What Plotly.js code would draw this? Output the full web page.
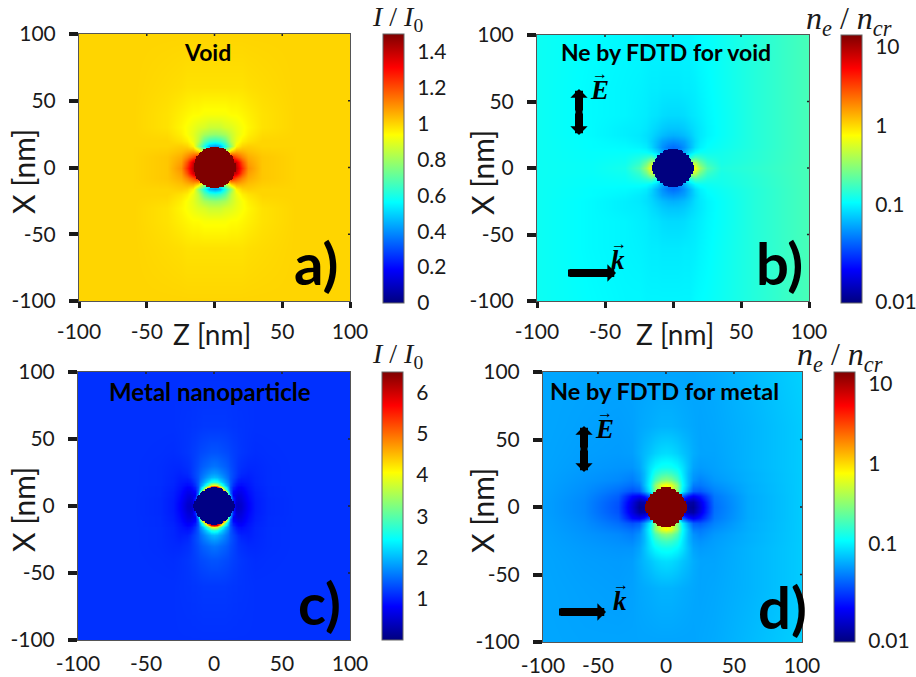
<!DOCTYPE html>
<html><head><meta charset="utf-8">
<script src="https://cdn.plot.ly/plotly-3.0.1.min.js"></script>
<style>html,body{margin:0;padding:0;background:#fff}#c{width:916px;height:677px}</style>
</head><body><div id="c"></div>
<script>
// ---- values ----
const axisTicks=[-100,-50,0,50,100];
const panelTitles=['Void','Ne by FDTD for void','Metal nanoparticle','Ne by FDTD for metal'];
const panelLetters=['a)','b)','c)','d)'];

// a) I/I0, quadrant: columns |Z|, rows |X|
const aCols=[0,4,8,12,16,20,25,35,60,100];
const aRows=[0,4,8,12,16,20,25,30,40,60,100];
const aQuad=[
[1.45,1.45,1.45,1.45,1.42,1.25,1.1,1.02,1,1],
[1.4,1.4,1.42,1.42,1.38,1.2,1.08,1.02,1,1],
[1,1.1,1.2,1.3,1.2,1.12,1.06,1.02,1,1],
[.5,.6,.8,1,1.06,1.05,1.03,1.01,1,1],
[.42,.46,.6,.78,.95,1,1.01,1,1,1],
[.62,.64,.7,.84,.91,.96,.98,1,1,1],
[.78,.79,.81,.86,.9,.93,.96,.99,1,1],
[.86,.86,.88,.89,.91,.93,.95,.98,1,1],
[.93,.93,.93,.94,.94,.95,.96,.98,1,1],
[.98,.98,.98,.98,.98,.98,.985,.99,1,1],
[1,1,1,1,1,1,1,1,1,1]];
const aDisc=[15,15,15,15,14,14,14,13,13,12,11,10,9,8,6,3];

// c) I/I0, quadrant
const cCols=[0,2,4,6,8,10,12,14,16,18,20,25,30,40,60,100];
const cRows=[0,2,4,6,8,10,11,12,13,14,15,16,17,18,20,22,25,30,40,60,100];
const cQuad=[
[6,6,6,5.4,4.2,3,2,1,.5,.45,.5,.8,.98,1.08,1.12,1.12],
[6,6,6,5.4,4.2,3,2,1,.5,.47,.52,.8,.98,1.08,1.12,1.12],
[6,6,6,5.4,4.2,3,2,1,.55,.5,.55,.82,.98,1.08,1.12,1.12],
[6,6,6,5.4,4.2,3,2,1,.6,.55,.6,.84,.99,1.08,1.12,1.12],
[6,6,6,5.4,4.2,3,1.9,.75,.65,.6,.64,.86,1,1.09,1.12,1.12],
[6,6,6,5.4,4.2,3,1.5,.8,.72,.66,.68,.88,1,1.09,1.12,1.12],
[6,6,6,5.4,4.2,2.5,1.45,.85,.76,.7,.71,.89,1.01,1.09,1.12,1.12],
[6,6,6,5.4,3.6,2.2,1.4,.9,.8,.74,.74,.9,1.02,1.09,1.12,1.12],
[6,6,5.8,4.5,3,2.05,1.4,.97,.84,.78,.77,.92,1.02,1.09,1.12,1.12],
[6,5.8,4.9,3.6,2.6,1.9,1.35,1.02,.88,.82,.8,.93,1.03,1.09,1.12,1.12],
[5.2,4.8,3.9,3,2.3,1.8,1.37,1.08,.92,.86,.84,.94,1.03,1.09,1.12,1.12],
[4,3.8,3.2,2.6,2.1,1.72,1.38,1.12,.96,.9,.88,.95,1.04,1.1,1.12,1.12],
[3.2,3.05,2.75,2.3,1.95,1.67,1.38,1.15,1,.94,.9,.96,1.04,1.1,1.12,1.12],
[2.7,2.6,2.4,2.1,1.85,1.62,1.38,1.18,1.04,.97,.94,.97,1.05,1.1,1.12,1.12],
[2.25,2.2,2.05,1.9,1.72,1.54,1.36,1.22,1.1,1.02,.98,.99,1.05,1.1,1.12,1.12],
[2,1.95,1.88,1.76,1.63,1.5,1.36,1.25,1.15,1.08,1.02,1,1.05,1.1,1.12,1.12],
[1.78,1.75,1.7,1.62,1.54,1.44,1.35,1.26,1.18,1.12,1.07,1.03,1.06,1.1,1.12,1.12],
[1.55,1.53,1.5,1.46,1.42,1.36,1.3,1.24,1.18,1.14,1.11,1.07,1.07,1.1,1.12,1.12],
[1.34,1.34,1.33,1.31,1.29,1.27,1.24,1.21,1.19,1.17,1.15,1.12,1.1,1.11,1.12,1.12],
[1.17,1.17,1.17,1.17,1.17,1.16,1.16,1.15,1.15,1.14,1.14,1.13,1.12,1.12,1.12,1.12],
[1.12,1.12,1.12,1.12,1.12,1.12,1.12,1.12,1.12,1.12,1.12,1.12,1.12,1.12,1.12,1.12]];
const cDisc=[15,15,14,14,13,13,12,12,11,10,9,8,6,5,2,-1];

// b), d) log10(ne/ncr), upper half: columns Z, rows |X|
const neCols=[-100,-60,-35,-25,-20,-16,-12,-8,-4,0,4,8,12,16,20,25,35,60,100];
const neRows=[0,4,8,12,16,20,25,30,40,60,100];
const bHalf=[
[-.93,-.95,-.9,-.72,-.45,-.15,-.1,-.1,-.1,-.1,-.1,-.1,-.1,-.15,-.45,-.7,-.87,-.82,-.73],
[-.93,-.95,-.92,-.8,-.6,-.35,-.3,-.4,-.5,-.5,-.5,-.4,-.3,-.35,-.6,-.78,-.89,-.83,-.73],
[-.93,-.96,-.94,-.88,-.82,-.75,-.9,-1.1,-1.2,-1.2,-1.2,-1.1,-.9,-.75,-.8,-.87,-.9,-.84,-.73],
[-.93,-.96,-.96,-.95,-.96,-1,-1.1,-1.25,-1.4,-1.45,-1.4,-1.25,-1.1,-.98,-.94,-.93,-.91,-.84,-.73],
[-.93,-.97,-.98,-1,-1.03,-1.1,-1.22,-1.33,-1.42,-1.45,-1.42,-1.33,-1.22,-1.08,-1.01,-.96,-.93,-.85,-.73],
[-.93,-.97,-1,-1.03,-1.06,-1.12,-1.2,-1.28,-1.32,-1.34,-1.32,-1.28,-1.2,-1.1,-1.03,-.98,-.94,-.85,-.73],
[-.93,-.98,-1.02,-1.04,-1.07,-1.1,-1.15,-1.19,-1.22,-1.23,-1.22,-1.19,-1.15,-1.08,-1.04,-1,-.95,-.85,-.73],
[-.93,-.98,-1.02,-1.03,-1.05,-1.08,-1.11,-1.14,-1.16,-1.16,-1.16,-1.14,-1.11,-1.07,-1.04,-1,-.95,-.85,-.73],
[-.93,-.98,-1,-1.02,-1.03,-1.05,-1.06,-1.08,-1.09,-1.09,-1.09,-1.08,-1.06,-1.04,-1.02,-.99,-.95,-.85,-.73],
[-.93,-.98,-1,-1.01,-1.02,-1.03,-1.03,-1.04,-1.04,-1.04,-1.04,-1.03,-1.03,-1.02,-1,-.98,-.94,-.85,-.73],
[-.93,-.97,-.99,-.99,-1,-1,-1,-1,-1,-1,-1,-1,-1,-.98,-.97,-.96,-.93,-.85,-.73]];
const dHalf=[
[-1.26,-1.36,-1.55,-1.95,-2.17,-2.15,-2,-1.5,-1,-1,-1,-1.5,-2,-2.15,-2.17,-1.93,-1.45,-1.25,-1.14],
[-1.26,-1.36,-1.54,-1.92,-2.12,-2.1,-2,-1.5,-1,-1,-1,-1.5,-2,-2.1,-2.12,-1.9,-1.44,-1.25,-1.14],
[-1.26,-1.35,-1.5,-1.8,-1.85,-1.75,-1.5,-1,-.5,-.1,-.5,-1,-1.5,-1.75,-1.85,-1.75,-1.42,-1.25,-1.14],
[-1.26,-1.34,-1.45,-1.55,-1.5,-1.3,-1,-.5,-.2,-.1,-.2,-.5,-1,-1.3,-1.5,-1.52,-1.38,-1.24,-1.14],
[-1.26,-1.33,-1.4,-1.45,-1.4,-1.2,-.95,-.5,-.2,-.1,-.2,-.5,-.95,-1.2,-1.4,-1.42,-1.34,-1.24,-1.14],
[-1.26,-1.32,-1.36,-1.4,-1.33,-1.2,-.98,-.72,-.55,-.5,-.55,-.72,-.98,-1.2,-1.33,-1.38,-1.31,-1.23,-1.14],
[-1.26,-1.31,-1.34,-1.36,-1.3,-1.2,-1.03,-.87,-.78,-.75,-.78,-.87,-1.03,-1.2,-1.3,-1.33,-1.29,-1.23,-1.14],
[-1.26,-1.3,-1.32,-1.32,-1.27,-1.18,-1.06,-.98,-.93,-.92,-.93,-.98,-1.06,-1.18,-1.27,-1.3,-1.28,-1.22,-1.14],
[-1.26,-1.29,-1.3,-1.29,-1.24,-1.2,-1.16,-1.12,-1.09,-1.08,-1.09,-1.12,-1.16,-1.2,-1.24,-1.27,-1.27,-1.22,-1.14],
[-1.26,-1.28,-1.29,-1.28,-1.26,-1.25,-1.24,-1.23,-1.22,-1.22,-1.22,-1.23,-1.24,-1.25,-1.26,-1.27,-1.26,-1.22,-1.14],
[-1.26,-1.27,-1.27,-1.27,-1.27,-1.27,-1.27,-1.27,-1.27,-1.27,-1.27,-1.27,-1.27,-1.27,-1.27,-1.26,-1.25,-1.2,-1.12]];
const neDisc=[15,15,15,14,14,13,13,12,11,11,9,9,7,6,3];

// colour bars
const aBarTicks=[0,.2,.4,.6,.8,1,1.2,1.4];
const aBarText=['0','0.2','0.4','0.6','0.8','1','1.2','1.4'];
const cBarTicks=[1,2,3,4,5,6];
const neBarTicks=[-2.22,-1,0,1];
const neBarText=['0.01','0.1','1','10'];
const jet=[[0,'#00007f'],[.125,'#0000ff'],[.375,'#00ffff'],[.625,'#ffff00'],[.875,'#ff0000'],[1,'#7f0000']];
// panel d's picture starts at about Z = -90 although its first label reads -100
const dLeftEdge=-90.4;

// ---- page geometry (pixels) ----
const W=916,H=677;
const px=v=>v/W, py=v=>1-v/H;
const boxes=[
 {l:79,r:350,t:34,b:301,cl:383,ct:34,cb:303},
 {l:537,r:809,t:35,b:301,cl:841,ct:35,cb:303},
 {l:78,r:350,t:372,b:640,cl:382,ct:372,cb:640},
 {l:543,r:802,t:372,b:642,cl:834,ct:372,cb:642}];
const font='Lato, "Open Sans", sans-serif', ink='#1a1a1a';

function fromQuad(cols,rows,q){
  const x=[...cols.slice(1).map(v=>-v).reverse(),...cols];
  const y=[...rows.slice(1).map(v=>-v).reverse(),...rows];
  const r=q.map(row=>[...row.slice(1).reverse(),...row]);
  return {x,y,z:[...r.slice(1).reverse(),...r]};
}
function fromHalf(cols,rows,q){
  const y=[...rows.slice(1).map(v=>-v).reverse(),...rows];
  return {x:cols,y,z:[...q.slice(1).reverse(),...q]};
}
function disc(hw,val){
  const c=[];for(let i=-16;i<=16;i++)c.push(i);
  const z=c.map(yy=>c.map(xx=>{const w=hw[Math.abs(yy)];return (w!==undefined&&Math.abs(xx)<=w)?val:null;}));
  return {x:c,y:c,z};
}
const fields=[fromQuad(aCols,aRows,aQuad),fromHalf(neCols,neRows,bHalf),fromQuad(cCols,cRows,cQuad),fromHalf(neCols,neRows,dHalf)];
const discs=[disc(aDisc,1.5),disc(neDisc,-2.24),disc(cDisc,.03),disc(neDisc,1.15)];
const ranges=[[0,1.5],[-2.24,1.15],[0,6.5],[-2.24,1.15]];
const bars=[[aBarTicks,aBarText],[neBarTicks,neBarText],[cBarTicks,cBarTicks.map(String)],[neBarTicks,neBarText]];

const data=[],layout={width:W,height:H,margin:{l:0,r:0,t:0,b:0,autoexpand:false},paper_bgcolor:'#fff',plot_bgcolor:'#fff',showlegend:false,annotations:[],shapes:[]};
boxes.forEach((b,i)=>{
  const n=i+1,xa='x'+n,ya='y'+n,[zmin,zmax]=ranges[i];
  data.push({type:'heatmap',...fields[i],xaxis:xa,yaxis:ya,zmin,zmax,colorscale:jet,zsmooth:'best',hoverinfo:'skip',
    showscale:true,colorbar:{x:px(b.cl),xanchor:'left',xpad:0,y:py(b.cb),yanchor:'bottom',ypad:0,
      thickness:21,thicknessmode:'pixels',len:b.cb-b.ct,lenmode:'pixels',
      tickmode:'array',tickvals:bars[i][0],ticktext:bars[i][1],ticks:'outside',ticklen:9,tickcolor:'rgba(0,0,0,0)',
      tickfont:{family:font,size:21,color:ink},outlinecolor:'#666',outlinewidth:1,borderwidth:0}});
  data.push({type:'heatmap',...discs[i],xaxis:xa,yaxis:ya,zmin,zmax,colorscale:jet,showscale:false,hoverinfo:'skip',zsmooth:false});
  const top=i<2, left=i===3?dLeftEdge:-100;
  layout['xaxis'+n]={domain:[px(b.l),px(b.r)],range:[left,100],anchor:ya,tickmode:'array',tickvals:[left,...axisTicks.slice(1)],
    ticktext:top?['-100','-50','','50','100']:axisTicks.map(String),
    ticks:top?'outside':'',ticklen:top?6:0,tickwidth:3,tickcolor:ink,ticklabelstandoff:top?6:5,
    tickfont:{family:font,size:21,color:ink},showgrid:false,zeroline:false,showline:true,linecolor:'#555',linewidth:1,mirror:true};
  layout['yaxis'+n]={domain:[py(b.b),py(b.t)],range:[-100,100],anchor:xa,tickmode:'array',tickvals:axisTicks,ticktext:axisTicks.map(String),
    ticks:'outside',ticklen:9,tickwidth:4,tickcolor:ink,ticklabelstandoff:9,tickfont:{family:font,size:21,color:ink},
    showgrid:false,zeroline:false,showline:true,linecolor:'#555',linewidth:1,mirror:true};
  // tiny inward ticks on the opposite edges
  axisTicks.slice(1,-1).forEach(t=>{
    layout.shapes.push({type:'line',xref:xa,x0:t,x1:t,yref:ya,y0:100,y1:98.5,line:{color:'#222',width:1.5},layer:'above'});
    layout.shapes.push({type:'line',yref:ya,y0:t,y1:t,xref:xa,x0:100,x1:98.5,line:{color:'#222',width:1.5},layer:'above'});
  });
});
const note=(text,x,y,size,extra)=>layout.annotations.push({text,xref:'paper',yref:'paper',x:px(x),y:py(y),xanchor:'center',yanchor:'middle',showarrow:false,
  font:{family:font,size,color:'#000'},...extra});
note('<b>'+panelTitles[0]+'</b>',207,52,23);
note('<b>'+panelTitles[1]+'</b>',666,52,23);
note('<b>'+panelTitles[2]+'</b>',210,391,24);
note('<b>'+panelTitles[3]+'</b>',664,391,23.5);
note('<b>'+panelLetters[0]+'</b>',316,262,58);
note('<b>'+panelLetters[1]+'</b>',779,262,58);
note('<b>'+panelLetters[2]+'</b>',319,602,58);
note('<b>'+panelLetters[3]+'</b>',782,606,58);
[[23,172],[482,172],[23,510],[482,510]].forEach(([x,y])=>note('X [nm]',x,y,30,{textangle:-90,font:{family:font,size:30,color:ink}}));
note('Z [nm]',212,334,28,{font:{family:font,size:28,color:ink}});
note('Z [nm]',675,334,28,{font:{family:font,size:28,color:ink}});
const serif='"Liberation Serif", "DejaVu Serif", serif';
const sf={family:serif,size:28,color:ink};
note('<i>I</i> / <i>I</i><sub>0</sub>',397,19,28,{font:sf});
note('<i>I</i> / <i>I</i><sub>0</sub>',397,355,28,{font:sf});
note('<i>n<sub>e</sub></i> / <i>n<sub>cr</sub></i>',849,21,32,{font:{...sf,size:32}});
note('<i>n<sub>e</sub></i> / <i>n<sub>cr</sub></i>',840,356,32,{font:{...sf,size:32}});
const bs={family:serif,size:27,color:'#000'}, ar={family:serif,size:16,color:'#000'};
[['E',599,90],['k',618,260],['E',604,429],['k',620,601]].forEach(([t,x,y])=>{
  note('<b><i>'+t+'</i></b>',x,y,27,{font:bs});
  note('<b>\u2192</b>',x+1,y-17,16,{font:ar});
});
const arrow=(x0,y0,x1,y1)=>layout.annotations.push({text:'',xref:'paper',yref:'paper',x:px(x1),y:py(y1),ax:x0-x1,ay:y0-y1,axref:'pixel',ayref:'pixel',
  showarrow:true,arrowhead:1,arrowsize:.36,arrowwidth:8,arrowcolor:'#000',arrowside:'end'});
const shaft=(x0,y0,x1,y1)=>layout.shapes.push({type:'line',xref:'paper',yref:'paper',x0:px(x0),y0:py(y0),x1:px(x1),y1:py(y1),line:{color:'#000',width:7},layer:'above'});
arrow(579,112,579,135);
arrow(579,112,579,89);
shaft(579,97,579,127);
arrow(568,273,616,273);
shaft(568,273,608,273);
arrow(584,449,584,472);
arrow(584,449,584,426);
shaft(584,434,584,464);
arrow(559,612,606,612);
shaft(559,612,598,612);
Plotly.newPlot('c',data,layout,{displayModeBar:false,staticPlot:true});
</script></body></html>
